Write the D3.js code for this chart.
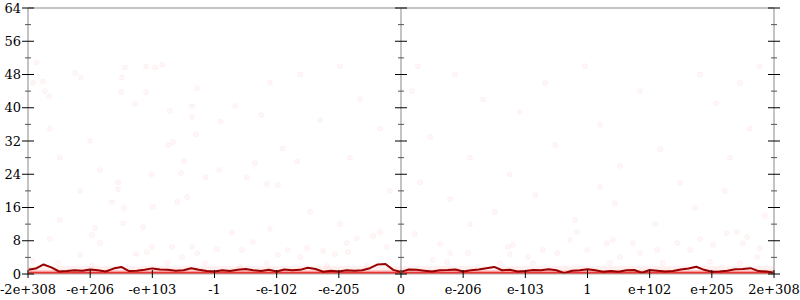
<!DOCTYPE html>
<html>
<head>
<meta charset="utf-8">
<script src="https://cdn.jsdelivr.net/npm/d3@7"></script>
<style>
  body { margin: 0; background: #fff; }
  svg { display: block; }
  text { font-family: "DejaVu Serif", serif; font-size: 13px; fill: #000; }
</style>
</head>
<body>
<div id="chart"></div>
<script>
'use strict'

// x positions are in "flonum order" units: tick i sits at i
const xTickLabels = ['-2e+308', '-e+206', '-e+103', '-1', '-e-102', '-e-205', '0',
                     'e-206', 'e-103', '1', 'e+102', 'e+205', '2e+308']
const yTicks = [0, 8, 16, 24, 32, 40, 48, 56, 64]

// density line (dark red), sampled every 1/8 tick
const lineX = [0, 0.125, 0.25, 0.375, 0.5, 0.625, 0.75, 0.875, 1, 1.125, 1.25, 1.375,
               1.5, 1.625, 1.75, 1.875, 2, 2.125, 2.25, 2.375, 2.5, 2.625, 2.75, 2.875,
               3, 3.125, 3.25, 3.375, 3.5, 3.625, 3.75, 3.875, 4, 4.125, 4.25, 4.375,
               4.5, 4.625, 4.75, 4.875, 5, 5.125, 5.25, 5.375, 5.5, 5.625, 5.75, 5.875,
               6, 6.125, 6.25, 6.375, 6.5, 6.625, 6.75, 6.875, 7, 7.125, 7.25, 7.375,
               7.5, 7.625, 7.75, 7.875, 8, 8.125, 8.25, 8.375, 8.5, 8.625, 8.75, 8.875,
               9, 9.125, 9.25, 9.375, 9.5, 9.625, 9.75, 9.875, 10, 10.125, 10.25, 10.375,
               10.5, 10.625, 10.75, 10.875, 11, 11.125, 11.25, 11.375, 11.5, 11.625, 11.75, 11.875, 12]
const lineY = [1.0, 1.3, 2.3, 1.6, 0.6, 0.7, 0.9, 0.8, 1.1, 0.9, 0.6, 1.3,
               1.7, 0.7, 0.8, 1.0, 1.35, 1.1, 1.0, 0.8, 0.9, 1.4, 1.0, 0.7,
               0.6, 0.9, 0.7, 1.0, 1.2, 0.9, 0.7, 1.0, 0.6, 1.1, 0.9, 1.0,
               1.5, 1.2, 0.55, 0.8, 0.6, 0.9, 0.8, 0.9, 1.4, 2.3, 2.4, 1.0,
               0.5, 1.1, 1.0, 0.8, 0.6, 0.9, 0.95, 1.1, 0.6, 0.9, 1.1, 1.4,
               1.7, 0.9, 1.0, 0.6, 0.7, 0.95, 0.9, 1.15, 0.9, 0.2, 0.8, 0.9,
               1.15, 0.9, 0.55, 0.7, 0.55, 0.9, 0.95, 0.3, 0.95, 0.8, 0.6, 0.7,
               1.1, 1.3, 1.75, 1.0, 0.55, 0.6, 0.8, 1.15, 1.2, 1.4, 0.7, 0.6, 0.3]

// faint sample points
const ptX = [0.14, 0.08, 0.24, 0.27, 0.34, 0.76, 0.85, 1.56, 1.51, 1.50, 1.90, 2.04, 2.16, 1.90, 2.72,
             1.72, 2.28, 2.64, 2.64, 3.33, 3.75, 3.10, 2.70, 2.25, 2.33, 4.10, 4.33, 2.51, 3.65, 1.99,
             2.46, 3.07, 2.86, 3.52, 1.45, 1.45, 3.84, 4.02, 2.56, 1.35, 1.54, 2.01, 2.40, 1.53, 1.85, 3.89,
             0.35, 1.16, 1.03, 0.84, 1.74, 1.91, 1.99, 2.32, 2.64, 2.48, 2.72, 0.48, 0.08, 1.03, 2.24,
             3.28, 3.62, 3.04, 3.44, 4.02, 4.38, 4.18, 4.49, 4.75, 4.94, 5.15, 5.29, 5.13, 5.55, 5.66, 5.77,
             2.85, 3.41, 3.84, 4.81, 5.45,
             6.22, 6.63, 6.79, 6.51, 7.08, 7.72, 7.80, 7.75, 8.04, 8.28, 8.51, 8.72, 8.83, 8.99, 6.74, 7.59, 8.12,
             9.31, 9.41, 9.73, 9.52, 9.84, 10.12, 10.44, 10.81, 10.65, 11.02, 11.24, 11.40, 11.50, 11.57, 11.77,
             11.73, 9.36, 10.21, 10.97, 11.45,
             6.27, 6.18, 6.87, 7.32, 7.91, 8.32, 8.96, 9.20, 9.84, 10.17, 10.81, 11.07, 11.45, 11.77, 6.47,
             7.11, 7.75, 8.48, 9.52, 10.49, 11.29, 6.79, 7.51, 8.16, 8.80, 9.44, 10.09, 10.73, 11.21, 11.85,
             6.31, 7.11, 9.20, 11.61,
             0.35, 0.51, 1.00, 1.16, 3.89, 4.38, 5.02, 5.34, 5.66, 4.70, 5.18, 5.82, 4.54, 5.02, 0.51, 0.84, 1.08]
const ptY = [50.9, 46, 46.3, 44, 42.7, 48.3, 47.3, 49.7, 47.3, 43.7, 49.9, 49.7, 50.4, 43.7, 44.7,
             41, 39.2, 40.4, 37.7, 40.4, 38.2, 36.7, 33.6, 31, 31.7, 30.2, 27.1, 27.1, 26.7, 24,
             24.3, 25, 23.3, 23.3, 22.1, 20.4, 21.6, 21.4, 18.5, 17.3, 15.9, 16.1, 17.3, 12.2, 11.3, 10.8,
             8.4, 7.5, 9.4, 4.6, 4.8, 5.3, 6.5, 6.5, 6.5, 4.1, 5.0, 2.6, 3.1, 1.9, 2.6,
             10, 7.7, 6, 5.8, 4.6, 4.1, 5.8, 6.2, 5.5, 4.8, 5.3, 8.6, 7.4, 9.1, 10.1, 6.5,
             2.6, 1.7, 2.6, 1.9, 1.9,
             9.6, 7.2, 5, 3.4, 5, 6.5, 7, 4.8, 4.1, 5.8, 5, 8.2, 10.1, 5.8, 2.9, 2.6, 2.6,
             7.4, 8.2, 7.4, 4.1, 5, 5.8, 7.4, 8.4, 5.8, 7, 9.8, 10.1, 7.4, 8.9, 6.2,
             4.1, 2.6, 2.6, 2.9, 2.6,
             50, 44, 48, 42, 39, 46, 50, 36, 44, 30, 48, 41, 46, 50, 33,
             28, 24, 31, 26, 22, 28, 18, 15, 19, 13, 17, 12, 16, 20, 14,
             22, 12, 21, 35,
             35, 28, 32, 25, 46, 48, 50, 42, 35, 37, 28, 20, 15, 12, 13, 20, 11]

const svgWidth = 800, svgHeight = 300
const margin = { left: 28, right: 26, top: 8, bottom: 26 }

const svg = d3.select('#chart').append('svg')
    .attr('width', svgWidth)
    .attr('height', svgHeight)

const x = d3.scaleLinear()
    .domain([0, xTickLabels.length - 1])
    .range([margin.left, svgWidth - margin.right])

const y = d3.scaleLinear()
    .domain([0, 64])
    .range([svgHeight - margin.bottom, margin.top])

// points (very faint)
svg.append('g')
    .selectAll('circle')
    .data(ptX.map((d, i) => [d, ptY[i]]))
    .join('circle')
    .attr('cx', d => x(d[0]))
    .attr('cy', d => y(d[1]))
    .attr('r', 2.5)
    .attr('fill', 'rgba(255,0,0,0.03)')
    .attr('stroke', 'rgba(230,0,0,0.045)')
    .attr('stroke-width', 1)

// pink band near zero
svg.append('rect')
    .attr('x', x(0)).attr('y', y(1.9))
    .attr('width', x(12) - x(0)).attr('height', y(0) - y(1.9))
    .attr('fill', 'rgba(255,0,0,0.06)')
svg.append('rect')
    .attr('x', x(0)).attr('y', y(0.9))
    .attr('width', x(12) - x(0)).attr('height', y(0) - y(0.9))
    .attr('fill', 'rgba(255,40,40,0.22)')
svg.append('rect')
    .attr('x', x(0)).attr('y', y(0.55))
    .attr('width', x(12) - x(0)).attr('height', y(0) - y(0.55))
    .attr('fill', '#ee3333')

// density line
svg.append('path')
    .datum(lineX.map((d, i) => [d, lineY[i]]))
    .attr('fill', 'none')
    .attr('stroke', '#990000')
    .attr('stroke-width', 2)
    .attr('stroke-linejoin', 'round')
    .attr('d', d3.line().x(d => x(d[0])).y(d => y(d[1])))

// frame lines (gray)
const gray = '#b0b0b0'
svg.append('line').attr('x1', x(0)).attr('x2', x(12)).attr('y1', y(64)).attr('y2', y(64))
    .attr('stroke', gray).attr('stroke-width', 1.5)
svg.append('line').attr('x1', x(0)).attr('x2', x(12)).attr('y1', y(0)).attr('y2', y(0))
    .attr('stroke', gray).attr('stroke-width', 1)
;[0, 6, 12].forEach(v => {
    svg.append('line').attr('x1', x(v)).attr('x2', x(v)).attr('y1', y(0)).attr('y2', y(64))
        .attr('stroke', gray).attr('stroke-width', 1.5)
})

// y ticks on the three vertical axes
const minorY = d3.range(4, 64, 8)
;[0, 6, 12].forEach(v => {
    const g = svg.append('g')
    g.selectAll('.maj').data(yTicks).join('line')
        .attr('x1', x(v) - 6).attr('x2', x(v) + 6)
        .attr('y1', d => y(d)).attr('y2', d => y(d))
        .attr('stroke', '#000').attr('stroke-width', 1)
    g.selectAll('.min').data(minorY).join('line')
        .attr('x1', x(v) - 3).attr('x2', x(v) + 3)
        .attr('y1', d => y(d)).attr('y2', d => y(d))
        .attr('stroke', '#555').attr('stroke-width', 1)
})

// y labels
svg.append('g').selectAll('text').data(yTicks).join('text')
    .attr('x', x(0) - 7)
    .attr('y', d => y(d))
    .attr('dy', '0.35em')
    .attr('text-anchor', 'end')
    .text(d => d)

// x ticks and labels
svg.append('g').selectAll('line').data(xTickLabels).join('line')
    .attr('x1', (d, i) => x(i)).attr('x2', (d, i) => x(i))
    .attr('y1', y(0) - 4).attr('y2', y(0) + 4)
    .attr('stroke', '#000').attr('stroke-width', 1)

svg.append('g').selectAll('text').data(xTickLabels).join('text')
    .attr('x', (d, i) => x(i))
    .attr('y', y(0) + 20)
    .attr('text-anchor', 'middle')
    .text(d => d)
</script>
</body>
</html>
